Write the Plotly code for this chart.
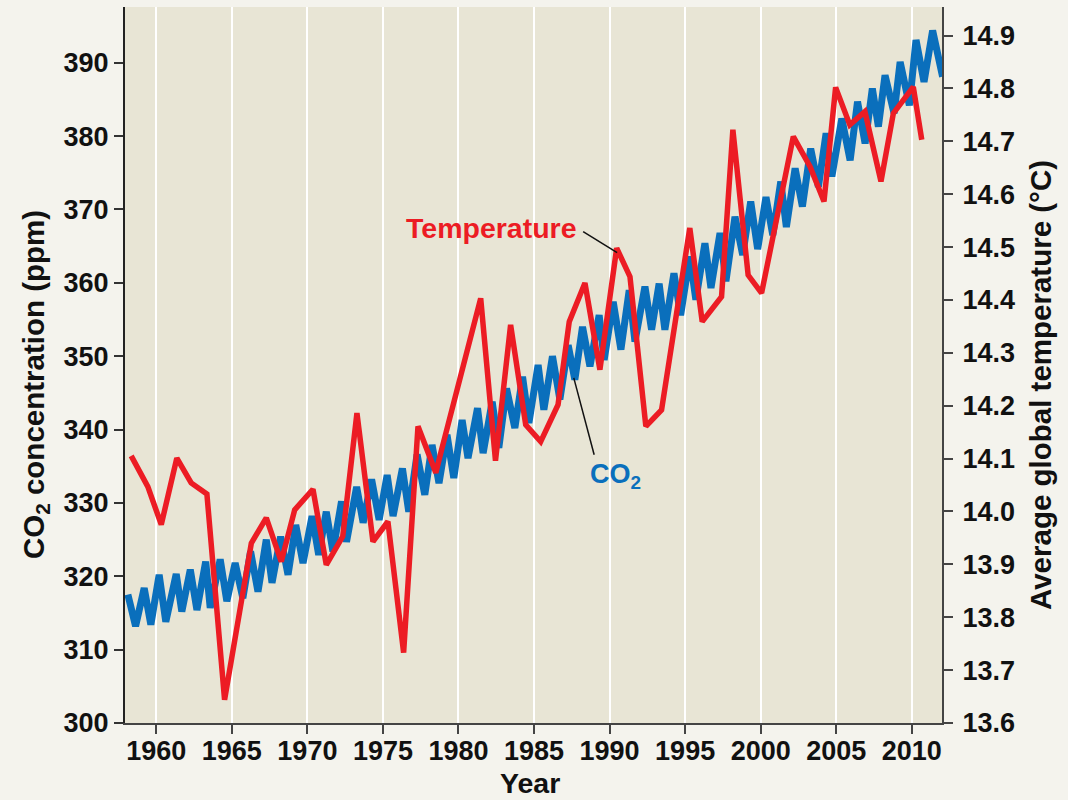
import plotly.graph_objects as go

# ---- data ----
co2_years = [1958.12, 1958.63, 1959.20, 1959.64, 1960.19, 1960.63, 1961.32, 1961.69, 1962.25, 1962.69,
             1963.27, 1963.57, 1964.23, 1964.67, 1965.22, 1965.73, 1966.24, 1966.73, 1967.28, 1967.66,
             1968.23, 1968.72, 1969.23, 1969.71, 1970.31, 1970.75, 1971.25, 1971.69, 1972.26, 1972.59,
             1973.26, 1973.69, 1974.25, 1974.75, 1975.28, 1975.67, 1976.29, 1976.71, 1977.26, 1977.77,
             1978.25, 1978.71, 1979.24, 1979.69, 1980.24, 1980.63, 1981.26, 1981.63, 1982.23, 1982.67,
             1983.18, 1983.73, 1984.24, 1984.66, 1985.27, 1985.65, 1986.22, 1986.71, 1987.26, 1987.70,
             1988.21, 1988.70, 1989.31, 1989.64, 1990.24, 1990.75, 1991.30, 1991.68, 1992.34, 1992.78,
             1993.28, 1993.66, 1994.26, 1994.70, 1995.31, 1995.71, 1996.31, 1996.71, 1997.31, 1997.70,
             1998.30, 1998.81, 1999.34, 1999.80, 2000.35, 2000.80, 2001.33, 2001.70, 2002.28, 2002.76,
             2003.31, 2003.82, 2004.33, 2004.71, 2005.37, 2005.92, 2006.41, 2006.91, 2007.39, 2007.79,
             2008.23, 2008.83, 2009.23, 2009.84, 2010.28, 2010.81, 2011.38, 2012.04]
co2_ppm = [317.5, 313.2, 318.4, 313.4, 320.2, 313.8, 320.3, 315.2, 320.9, 315.4,
           322.0, 315.7, 322.3, 316.6, 321.8, 317.0, 323.4, 317.9, 325.0, 319.1,
           325.4, 320.2, 327.0, 321.8, 328.2, 322.9, 328.8, 323.4, 330.2, 324.7,
           332.2, 327.3, 333.2, 327.7, 333.8, 328.2, 334.7, 328.8, 336.6, 331.1,
           337.9, 332.7, 339.3, 333.4, 341.3, 336.1, 342.9, 336.8, 343.8, 337.5,
           345.6, 340.2, 347.2, 340.9, 348.8, 342.7, 350.0, 344.1, 351.5, 346.8,
           354.0, 348.6, 355.6, 349.5, 357.4, 350.9, 359.0, 352.0, 359.5, 353.6,
           359.9, 353.6, 361.3, 355.6, 363.6, 357.7, 365.4, 359.3, 366.8, 360.2,
           369.0, 363.8, 371.1, 364.6, 371.7, 366.5, 373.8, 367.6, 375.6, 370.4,
           378.3, 373.1, 380.4, 374.5, 382.4, 376.7, 384.7, 379.0, 386.5, 381.3,
           388.3, 383.1, 390.1, 384.2, 393.1, 387.4, 394.4, 388.1]

temp_years = [1958.34, 1959.44, 1960.33, 1961.36, 1962.31, 1963.35, 1964.52, 1965.35, 1966.29, 1967.28,
              1968.27, 1969.16, 1970.37, 1971.25, 1972.34, 1973.28, 1974.34, 1975.33, 1976.37, 1977.32,
              1978.50, 1978.85, 1981.47, 1982.45, 1983.45, 1984.45, 1985.44, 1986.59, 1987.33, 1988.37,
              1989.36, 1990.47, 1991.35, 1992.40, 1993.44, 1995.31, 1996.13, 1997.41, 1998.16, 1999.17,
              2000.06, 2002.16, 2003.27, 2004.19, 2004.96, 2005.90, 2006.90, 2007.96, 2008.78, 2010.10,
              2010.66]
temp_c = [14.105, 14.047, 13.975, 14.101, 14.054, 14.033, 13.644, 13.776, 13.940, 13.988,
          13.905, 14.003, 14.042, 13.899, 13.953, 14.186, 13.943, 13.981, 13.733, 14.161,
          14.073, 14.113, 14.403, 14.096, 14.353, 14.164, 14.132, 14.202, 14.359, 14.432,
          14.268, 14.498, 14.444, 14.161, 14.192, 14.536, 14.359, 14.406, 14.722, 14.447,
          14.413, 14.709, 14.652, 14.586, 14.802, 14.731, 14.756, 14.624, 14.753, 14.803,
          14.703]

year_ticks = [1960, 1965, 1970, 1975, 1980, 1985, 1990, 1995, 2000, 2005, 2010]
co2_ticks = [300, 310, 320, 330, 340, 350, 360, 370, 380, 390]
temp_ticks = [13.6, 13.7, 13.8, 13.9, 14.0, 14.1, 14.2, 14.3, 14.4, 14.5, 14.6, 14.7, 14.8, 14.9]

RED = "#ec1c24"
BLUE = "#0a6fbc"
FONT = "Liberation Sans, Arial, sans-serif"

fig = go.Figure()
fig.add_trace(go.Scatter(x=co2_years, y=co2_ppm, mode="lines", yaxis="y",
                         line=dict(color=BLUE, width=7), name="CO2", hoverinfo="skip"))
fig.add_trace(go.Scatter(x=temp_years, y=temp_c, mode="lines", yaxis="y2",
                         line=dict(color=RED, width=5.5), name="Temperature", hoverinfo="skip"))

tickfont = dict(family=FONT, size=27, color="#111", weight="bold")
titlefont = dict(family=FONT, size=29.5, color="#111", weight="bold")

fig.update_layout(
    width=1068, height=800,
    margin=dict(l=125, r=126, t=7, b=77),
    paper_bgcolor="#f4f3ed",
    plot_bgcolor="#e8e5d5",
    showlegend=False,
    xaxis=dict(range=[1957.93, 2012.0], tickvals=year_ticks, ticks="outside", ticklen=9,
               tickwidth=2, tickcolor="#444", showline=True, linecolor="#444", linewidth=2,
               showgrid=True, gridcolor="#ffffff", gridwidth=2, zeroline=False,
               tickfont=tickfont, automargin=False, ticklabelstandoff=-6),
    yaxis=dict(range=[300, 397.6], tickvals=co2_ticks, ticks="outside", ticklen=9,
               tickwidth=2, tickcolor="#333", showline=True, linecolor="#222", linewidth=2,
               showgrid=False, zeroline=False, tickfont=tickfont, automargin=False),
    yaxis2=dict(range=[13.5999, 14.954], tickvals=temp_ticks, tickformat=".1f", overlaying="y",
                side="right", ticks="outside", ticklen=9, tickwidth=2, tickcolor="#444",
                showline=True, linecolor="#444", linewidth=2, showgrid=False, zeroline=False,
                tickfont=tickfont, automargin=False, ticklabelstandoff=4),
)

# axis titles (placed as annotations to match reference positions)
PW, PH = 817.0, 716.0
fig.add_annotation(xref="paper", yref="paper", x=(35 - 125) / PW, y=(723 - 385) / PH,
                   text="CO<sub>2</sub> concentration (ppm)", textangle=-90, showarrow=False,
                   xanchor="center", yanchor="middle", font=titlefont)
fig.add_annotation(xref="paper", yref="paper", x=(1040 - 125) / PW, y=(723 - 385) / PH,
                   text="Average global temperature (°C)", textangle=-90, showarrow=False,
                   xanchor="center", yanchor="middle", font=titlefont)
fig.add_annotation(xref="paper", yref="paper", x=(530 - 125) / PW, y=(723 - 783) / PH,
                   text="Year", showarrow=False, xanchor="center", yanchor="middle",
                   font=dict(family=FONT, size=28.5, color="#111", weight="bold"))

# leader lines
fig.add_shape(type="line", xref="x", yref="y", x0=1988.25, y0=366.98, x1=1990.5, y1=364.12,
              line=dict(color="#111", width=1.5))
fig.add_shape(type="line", xref="x", yref="y", x0=1987.63, y0=347.05, x1=1988.98, y1=336.56,
              line=dict(color="#111", width=1.5))

fig.add_annotation(x=1982.2, y=367.47, xref="x", yref="y", text="Temperature", showarrow=False,
                   font=dict(family=FONT, size=28.5, color=RED, weight="bold"))
fig.add_annotation(x=1990.41, y=333.7, xref="x", yref="y", text="CO<sub>2</sub>", showarrow=False,
                   font=dict(family=FONT, size=27, color=BLUE, weight="bold"))

fig.write_html("out.html", config={"displayModeBar": False},
               post_script="document.body.style.margin='0px';")
